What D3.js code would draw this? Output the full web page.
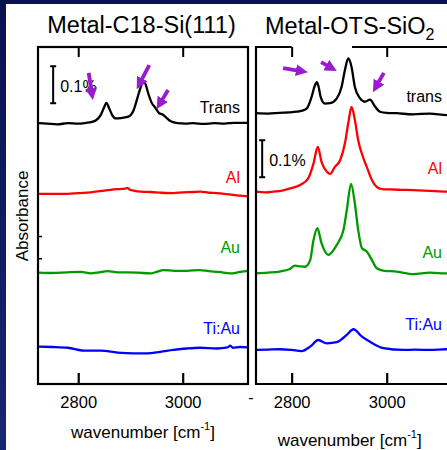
<!DOCTYPE html>
<html>
<head>
<meta charset="utf-8">
<script src="https://cdn.jsdelivr.net/npm/d3@7"></script>
<style>
  html, body { margin: 0; padding: 0; background: #fff; }
  svg { display: block; font-family: "Liberation Sans", Arial, sans-serif; }
</style>
</head>
<body>
<svg id="chart" width="447" height="450"></svg>
<script>
// ---------- data ----------
const xTicks = [2800, 3000];
const leftTitle = "Metal-C18-Si(111)";
const rightTitle = "Metal-OTS-SiO";
const rightTitleSub = "2";
const c18Names = ["Trans", "Al", "Au", "Ti:Au"];
const otsNames = ["trans", "Al", "Au", "Ti:Au"];
const seriesColors = ["#000000", "#ff0000", "#009a00", "#0000ff"];
const scaleBarText = "0.1%";
const scaleBarSpan = 0.1;            // absorbance, %
// vertical stacking offsets of each spectrum (absorbance, %)
const c18Offsets = [0.705, 0.514, 0.300, 0.100];
const otsOffsets = [0.732, 0.519, 0.300, 0.092];

// Metal-C18-Si(111): wavenumber (cm-1) and absorbance (%) above each baseline
const c18TransWn  = [2725, 2740, 2760, 2780, 2800, 2815, 2825, 2834, 2843, 2849, 2854, 2859, 2865, 2872, 2882, 2894, 2901, 2906, 2911, 2916, 2921, 2925, 2929, 2934, 2940, 2948, 2955, 2961, 2968, 2977, 2990, 3005, 3020, 3040, 3060, 3080, 3100, 3125];
const c18TransAbs = [0.000, -0.001, -0.003, 0.000, -0.001, 0.001, 0.003, 0.008, 0.022, 0.041, 0.055, 0.041, 0.022, 0.013, 0.014, 0.017, 0.023, 0.035, 0.057, 0.081, 0.103, 0.114, 0.105, 0.081, 0.057, 0.041, 0.027, 0.024, 0.016, 0.005, 0.000, -0.001, 0.000, -0.002, 0.000, -0.001, 0.001, 0.001];
const c18AlWn  = [2725, 2750, 2780, 2800, 2824, 2845, 2862, 2880, 2890, 2894, 2898, 2906, 2920, 2938, 2960, 2982, 3000, 3020, 3034, 3050, 3065, 3080, 3096, 3110, 3125];
const c18AlAbs = [0.000, 0.000, 0.000, 0.002, 0.004, 0.008, 0.011, 0.013, 0.014, 0.016, 0.012, 0.009, 0.006, 0.005, 0.003, 0.002, 0.004, 0.005, 0.006, 0.003, 0.002, 0.000, -0.003, -0.005, -0.007];
const c18AuWn  = [2725, 2750, 2780, 2805, 2824, 2840, 2856, 2875, 2894, 2915, 2938, 2950, 2963, 2985, 3008, 3033, 3050, 3070, 3091, 3110, 3125];
const c18AuAbs = [0.001, 0.000, 0.002, 0.003, -0.001, 0.002, 0.005, 0.002, 0.002, 0.001, -0.001, 0.003, 0.008, 0.006, 0.006, 0.008, 0.005, 0.003, -0.001, 0.003, 0.006];
const c18TiAuWn  = [2725, 2750, 2780, 2811, 2843, 2875, 2906, 2932, 2957, 2982, 3008, 3033, 3065, 3086, 3091, 3096, 3110, 3125];
const c18TiAuAbs = [0.001, 0.000, -0.002, -0.010, -0.010, -0.015, -0.017, -0.017, -0.013, -0.008, -0.004, -0.002, -0.004, -0.001, 0.004, -0.002, 0.000, -0.001];

// Metal-OTS-SiO2
const otsTransWn  = [2725, 2750, 2775, 2795, 2811, 2822, 2832, 2842, 2848, 2853, 2857, 2861, 2870, 2881, 2895, 2905, 2912, 2919, 2926, 2933, 2944, 2954, 2965, 2975, 2986, 3000, 3021, 3055, 3091, 3127, 3150];
const otsTransAbs = [0.000, -0.001, 0.001, 0.002, 0.004, 0.007, 0.013, 0.044, 0.072, 0.084, 0.070, 0.044, 0.026, 0.027, 0.040, 0.071, 0.116, 0.148, 0.125, 0.071, 0.040, 0.031, 0.037, 0.019, 0.004, 0.001, 0.000, -0.003, -0.001, -0.005, -0.004];
const otsAlWn  = [2725, 2745, 2762, 2780, 2797, 2818, 2835, 2846, 2855, 2863, 2874, 2881, 2891, 2902, 2912, 2919, 2926, 2933, 2940, 2951, 2958, 2969, 2979, 2990, 3007, 3030, 3056, 3091, 3125, 3150];
const otsAlAbs = [0.001, -0.001, 0.001, 0.004, 0.010, 0.019, 0.037, 0.077, 0.122, 0.081, 0.055, 0.049, 0.068, 0.086, 0.131, 0.185, 0.230, 0.195, 0.140, 0.091, 0.068, 0.032, 0.014, 0.008, 0.007, 0.006, 0.005, 0.003, 0.001, 0.001];
const otsAuWn  = [2725, 2750, 2775, 2795, 2807, 2818, 2828, 2839, 2846, 2854, 2863, 2877, 2895, 2909, 2916, 2925, 2933, 2940, 2948, 2958, 2969, 2979, 2995, 3021, 3056, 3091, 3125, 3150];
const otsAuAbs = [-0.001, 0.001, 0.004, 0.010, 0.020, 0.018, 0.017, 0.035, 0.089, 0.121, 0.080, 0.049, 0.076, 0.116, 0.170, 0.241, 0.188, 0.116, 0.067, 0.058, 0.035, 0.013, 0.006, 0.004, -0.003, 0.001, -0.001, 0.000];
const otsTiAuWn  = [2725, 2750, 2775, 2800, 2821, 2839, 2856, 2874, 2895, 2916, 2930, 2948, 2965, 2993, 3035, 3060, 3091, 3125, 3150];
const otsTiAuAbs = [0.000, 0.001, 0.002, 0.000, -0.003, 0.009, 0.027, 0.018, 0.021, 0.041, 0.056, 0.036, 0.022, 0.005, 0.000, 0.001, 0.000, 0.002, 0.000];

// peak-marking arrows: [tail wn, tail abs, tip wn, tip abs]
const c18Arrows = [[2820, 0.841, 2828, 0.768], [2936, 0.862, 2912, 0.797], [2972, 0.795, 2950, 0.743]];
const otsArrows = [[2782, 0.854, 2834, 0.843], [2862, 0.870, 2895, 0.846], [2994, 0.841, 2971, 0.789]];
// 0.1 % scale bars: [wn, lower abs]
const c18ScaleBar = [2752, 0.759];
const otsScaleBar = [2738, 0.559];
// minor ticks on the C18 absorbance axis
const c18YTicks = [0.34, 0.40];

// ---------- drawing ----------
const svg = d3.select("#chart");
const W = 447, H = 450;
const purple = "#9a1ad2";
const FONT = "'Liberation Sans', Arial, sans-serif";

// slide background: navy frame with white body
const defs = svg.append("defs");
const grad = defs.append("linearGradient").attr("id", "navy").attr("x1", 0).attr("y1", 0).attr("x2", 0).attr("y2", 1);
grad.append("stop").attr("offset", "0%").attr("stop-color", "#0b1150");
grad.append("stop").attr("offset", "100%").attr("stop-color", "#17276f");
svg.append("rect").attr("width", W).attr("height", H).attr("fill", "url(#navy)");
svg.append("rect").attr("x", 6).attr("y", 4).attr("width", W - 6).attr("height", H - 4).attr("fill", "#fff");

defs.append("marker")
  .attr("id", "head").attr("viewBox", "0 0 10 10")
  .attr("refX", 10).attr("refY", 5)
  .attr("markerUnits", "userSpaceOnUse")
  .attr("markerWidth", 12).attr("markerHeight", 12)
  .attr("orient", "auto")
  .append("path").attr("d", "M0,0 L10,5 L0,10 Z").attr("fill", purple);

const yTop = 47, yBottom = 384;
const y = d3.scaleLinear().domain([0, 0.911]).range([yBottom, yTop]);

const panels = [
  {
    x: d3.scaleLinear().domain([2723, 3125]).range([38, 248]),
    series: [[c18TransWn, c18TransAbs], [c18AlWn, c18AlAbs], [c18AuWn, c18AuAbs], [c18TiAuWn, c18TiAuAbs]],
    offsets: c18Offsets, names: c18Names, arrows: c18Arrows, bar: c18ScaleBar,
    labelX: 240, labelY: [113, 183, 253, 334], xLabelY: 438, closed: true
  },
  {
    x: d3.scaleLinear().domain([2725, 3150]).range([256, 458]),
    series: [[otsTransWn, otsTransAbs], [otsAlWn, otsAlAbs], [otsAuWn, otsAuAbs], [otsTiAuWn, otsTiAuAbs]],
    offsets: otsOffsets, names: otsNames, arrows: otsArrows, bar: otsScaleBar,
    labelX: 442, labelY: [102, 174, 258, 330], xLabelY: 446, closed: false
  }
];

panels.forEach((p, pi) => {
  const g = svg.append("g");
  const [x0, x1] = p.x.range();

  // spectra
  p.series.forEach(([wn, abs], i) => {
    const pts = wn.map((w, k) => [w, abs[k] + p.offsets[i]]);
    g.append("path")
      .attr("d", d3.line().x(d => p.x(d[0])).y(d => y(d[1])).curve(d3.curveMonotoneX)(pts))
      .attr("fill", "none").attr("stroke", seriesColors[i])
      .attr("stroke-width", 2.3).attr("stroke-linejoin", "round");
    g.append("text")
      .attr("x", p.labelX).attr("y", p.labelY[i])
      .attr("text-anchor", "end").attr("font-size", 16)
      .attr("fill", seriesColors[i]).text(p.names[i]);
  });

  // frame
  const frame = g.append("g").attr("fill", "none").attr("stroke", "#000").attr("stroke-width", 2.2);
  if (p.closed) {
    frame.append("rect").attr("x", x0).attr("y", yTop).attr("width", x1 - x0).attr("height", yBottom - yTop);
  } else {
    frame.append("path").attr("d", `M${W + 5},${yBottom} H${x0} V${yTop} H${p.x(2800)}`);
    frame.append("path").attr("d", `M352,${yTop} H${W + 5}`);
  }

  // bottom axis: inward ticks with labels
  const bottom = g.append("g").attr("transform", `translate(0,${yBottom})`)
    .call(d3.axisBottom(p.x).tickValues(xTicks).tickSize(-11).tickPadding(12.5).tickFormat(d3.format("d")));
  bottom.select(".domain").remove();
  bottom.selectAll(".tick line").attr("stroke-width", 2.2);
  bottom.selectAll("text").attr("font-size", 16.5).attr("font-family", FONT).attr("fill", "#000");

  // top axis: inward ticks only
  const top = g.append("g").attr("transform", `translate(0,${yTop})`)
    .call(d3.axisTop(p.x).tickValues(xTicks).tickSize(-10).tickFormat(""));
  top.select(".domain").remove();
  top.selectAll(".tick line").attr("stroke-width", 2);

  // x label with superscript
  const xl = g.append("text")
    .attr("x", (p.x(2800) + p.x(3000)) / 2 - 0.5 + (pi === 0 ? 13 : 11)).attr("y", p.xLabelY)
    .attr("text-anchor", "middle").attr("font-size", 17).attr("fill", "#000");
  xl.append("tspan").text("wavenumber [cm");
  xl.append("tspan").attr("font-size", 11).attr("dy", -8).text("-1");
  xl.append("tspan").attr("dy", 8).text("]");

  // scale bar
  const [bw, bAbs] = p.bar;
  const bx = p.x(bw), by0 = y(bAbs), by1 = y(bAbs + scaleBarSpan);
  const sb = g.append("g").attr("stroke", "#000").attr("stroke-width", 2);
  sb.append("line").attr("x1", bx).attr("x2", bx).attr("y1", by0).attr("y2", by1);
  sb.append("line").attr("x1", bx - 3).attr("x2", bx + 3).attr("y1", by0).attr("y2", by0);
  sb.append("line").attr("x1", bx - 3).attr("x2", bx + 3).attr("y1", by1).attr("y2", by1);
  g.append("text").attr("x", bx + 7).attr("y", (by0 + by1) / 2 + 7.5)
    .attr("font-size", 16).attr("fill", "#000").text(scaleBarText);

  // arrows
  p.arrows.forEach(([tw, ta, hw, ha]) => {
    const xa = p.x(tw), ya = y(ta), xb = p.x(hw), yb = y(ha);
    const len = Math.hypot(xb - xa, yb - ya);
    const s = (len - 7) / len;
    g.append("line")
      .attr("x1", xa).attr("y1", ya)
      .attr("x2", xa + (xb - xa) * s).attr("y2", ya + (yb - ya) * s)
      .attr("stroke", purple).attr("stroke-width", 3.8);
    g.append("line")
      .attr("x1", xa + (xb - xa) * s).attr("y1", ya + (yb - ya) * s)
      .attr("x2", xb).attr("y2", yb)
      .attr("stroke", purple).attr("stroke-width", 0.1)
      .attr("marker-end", "url(#head)");
  });
});

// minor ticks on the left absorbance axis
const yAx = svg.append("g").attr("transform", `translate(${panels[0].x.range()[0]},0)`)
  .call(d3.axisLeft(y).tickValues(c18YTicks).tickSize(-4).tickFormat(""));
yAx.select(".domain").remove();
yAx.selectAll(".tick line").attr("stroke-width", 1.5);

// y label
svg.append("text")
  .attr("transform", "translate(28,216) rotate(-90)")
  .attr("text-anchor", "middle").attr("font-size", 17).attr("fill", "#000")
  .text("Absorbance");

// titles
svg.append("text").attr("x", 141.5).attr("y", 33)
  .attr("text-anchor", "middle").attr("font-size", 23.5).attr("fill", "#000")
  .text(leftTitle);
const rt = svg.append("text").attr("x", 265).attr("y", 33.5)
  .attr("font-size", 23.5).attr("fill", "#000");
rt.append("tspan").text(rightTitle);
rt.append("tspan").attr("font-size", 16).attr("dy", 6.5).text(rightTitleSub);
// white band of the right figure overlapping the title
svg.append("rect").attr("x", 283).attr("y", 34).attr("width", 69).attr("height", 11).attr("fill", "#fff");

// stray dash below the panel gap
svg.append("text").attr("x", 251).attr("y", 403)
  .attr("text-anchor", "middle").attr("font-size", 16).attr("fill", "#000").text("-");
</script>
</body>
</html>
